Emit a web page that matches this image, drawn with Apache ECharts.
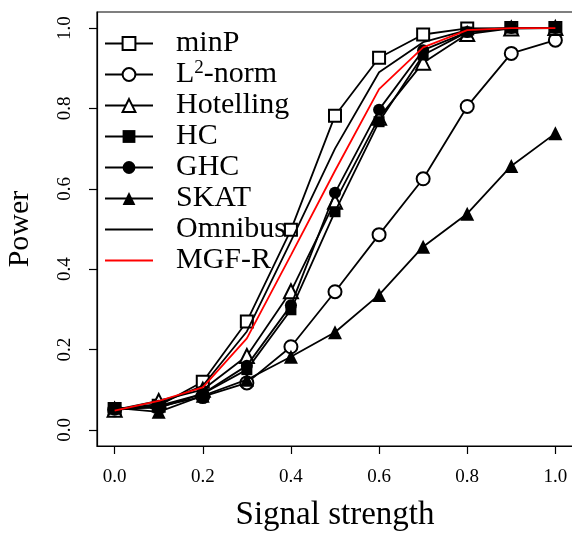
<!DOCTYPE html>
<html><head><meta charset="utf-8">
<script src="https://cdn.jsdelivr.net/npm/echarts@6/dist/echarts.min.js"></script>
<style>html,body{margin:0;padding:0;background:#fff}#c{width:572px;height:534px}</style>
</head><body><div id="c"></div>
<script>
const signal = [0.0, 0.1, 0.2, 0.3, 0.4, 0.5, 0.6, 0.7, 0.8, 0.9, 1.0];
const xTicks = [0.0, 0.2, 0.4, 0.6, 0.8, 1.0];
const xTickLabels = ['0.0', '0.2', '0.4', '0.6', '0.8', '1.0'];
const yTicks = [0.0, 0.2, 0.4, 0.6, 0.8, 1.0];
const yTickLabels = ['0.0', '0.2', '0.4', '0.6', '0.8', '1.0'];

const minP      = [0.052, 0.060, 0.120, 0.270, 0.498, 0.782, 0.926, 0.984, 0.999, 1.000, 1.000];
const L2norm    = [0.050, 0.058, 0.083, 0.117, 0.207, 0.344, 0.486, 0.625, 0.805, 0.937, 0.970];
const Hotelling = [0.050, 0.072, 0.100, 0.184, 0.345, 0.568, 0.777, 0.914, 0.985, 0.999, 1.000];
const HC        = [0.055, 0.055, 0.090, 0.150, 0.299, 0.543, 0.767, 0.933, 0.990, 1.000, 1.000];
const GHC       = [0.050, 0.060, 0.090, 0.160, 0.310, 0.590, 0.797, 0.945, 0.990, 1.000, 1.000];
const SKAT      = [0.055, 0.045, 0.085, 0.125, 0.182, 0.243, 0.336, 0.456, 0.538, 0.657, 0.738];
const Omnibus   = [0.050, 0.065, 0.110, 0.245, 0.470, 0.700, 0.890, 0.965, 0.995, 1.000, 1.000];
const MGFR      = [0.048, 0.072, 0.106, 0.228, 0.435, 0.645, 0.848, 0.952, 0.995, 1.000, 1.000];

const seriesNames = ['minP', 'L2-norm', 'Hotelling', 'HC', 'GHC', 'SKAT', 'Omnibus', 'MGF-R'];
const seriesValues = [minP, L2norm, Hotelling, HC, GHC, SKAT, Omnibus, MGFR];
const seriesSymbols = ['emptyRect', 'emptyCircle', 'emptyTriangle', 'rect', 'circle', 'triangle', 'none', 'none'];
const seriesSizes = [12, 13, 14, 11, 12, 14, 0, 0];
const seriesColors = ['#000', '#000', '#000', '#000', '#000', '#000', '#000', '#ff0000'];

const FONT = '"Liberation Serif", "DejaVu Serif", serif';
const chart = echarts.init(document.getElementById('c'), null, {renderer: 'canvas'});

const series = seriesNames.map((name, i) => ({
  name: name,
  type: 'line',
  data: signal.map((x, j) => [x, seriesValues[i][j]]),
  symbol: seriesSymbols[i],
  symbolSize: seriesSizes[i],
  showSymbol: seriesSymbols[i] !== 'none',
  color: seriesColors[i],
  lineStyle: {color: seriesColors[i], width: 1.8},
  itemStyle: {color: seriesColors[i], borderWidth: 1.6},
  emphasis: {disabled: true},
  animation: false,
  z: 2 + i
}));

const legendData = seriesNames.map((name, i) => seriesSymbols[i] === 'none'
  ? {name: name, icon: 'path://M0,0h48v1.8h-48z'}
  : {name: name});

chart.setOption({
  animation: false,
  backgroundColor: '#fff',
  grid: {left: 97, top: 12, right: -1, bottom: 88, outerBoundsMode: 'none', containLabel: false,
         show: true, borderColor: '#000', borderWidth: 1.2, backgroundColor: 'transparent'},
  xAxis: {
    type: 'value', min: -0.04, max: 1.04,
    name: 'Signal strength', nameLocation: 'middle', nameGap: 53,
    nameTextStyle: {fontFamily: FONT, fontSize: 33, color: '#000'},
    axisLine: {show: true, onZero: false, lineStyle: {color: '#000', width: 1.2}},
    axisTick: {show: true, length: 8, customValues: xTicks, lineStyle: {color: '#000', width: 1.2}},
    axisLabel: {customValues: xTicks, formatter: v => xTickLabels[xTicks.indexOf(+v.toFixed(1))], fontFamily: FONT, fontSize: 19, color: '#000', margin: 22},
    splitLine: {show: false}
  },
  yAxis: {
    type: 'value', min: -0.04, max: 1.04,
    name: 'Power', nameLocation: 'middle', nameGap: 62,
    nameTextStyle: {fontFamily: FONT, fontSize: 30, color: '#000'},
    axisLine: {show: true, onZero: false, lineStyle: {color: '#000', width: 1.2}},
    axisTick: {show: true, length: 8, customValues: yTicks, lineStyle: {color: '#000', width: 1.2}},
    axisLabel: {customValues: yTicks, rotate: 90, formatter: v => yTickLabels[yTicks.indexOf(+v.toFixed(1))], fontFamily: FONT, fontSize: 19, color: '#000', margin: 22},
    splitLine: {show: false}
  },
  legend: {
    orient: 'vertical', left: 104, top: 28, padding: 0, itemGap: 0,
    itemWidth: 48, itemHeight: 16,
    data: legendData,
    selectedMode: false,
    formatter: name => name === 'L2-norm' ? 'L{sup|2}-norm' : name,
    textStyle: {
      fontFamily: FONT, fontSize: 30, color: '#000', lineHeight: 31, padding: [0, 0, 0, 18],
      rich: {sup: {fontFamily: FONT, fontSize: 19, lineHeight: 31, verticalAlign: 'top', padding: [0, 0, 11, 0]}}
    }
  },
  series: series
});
</script></body></html>
